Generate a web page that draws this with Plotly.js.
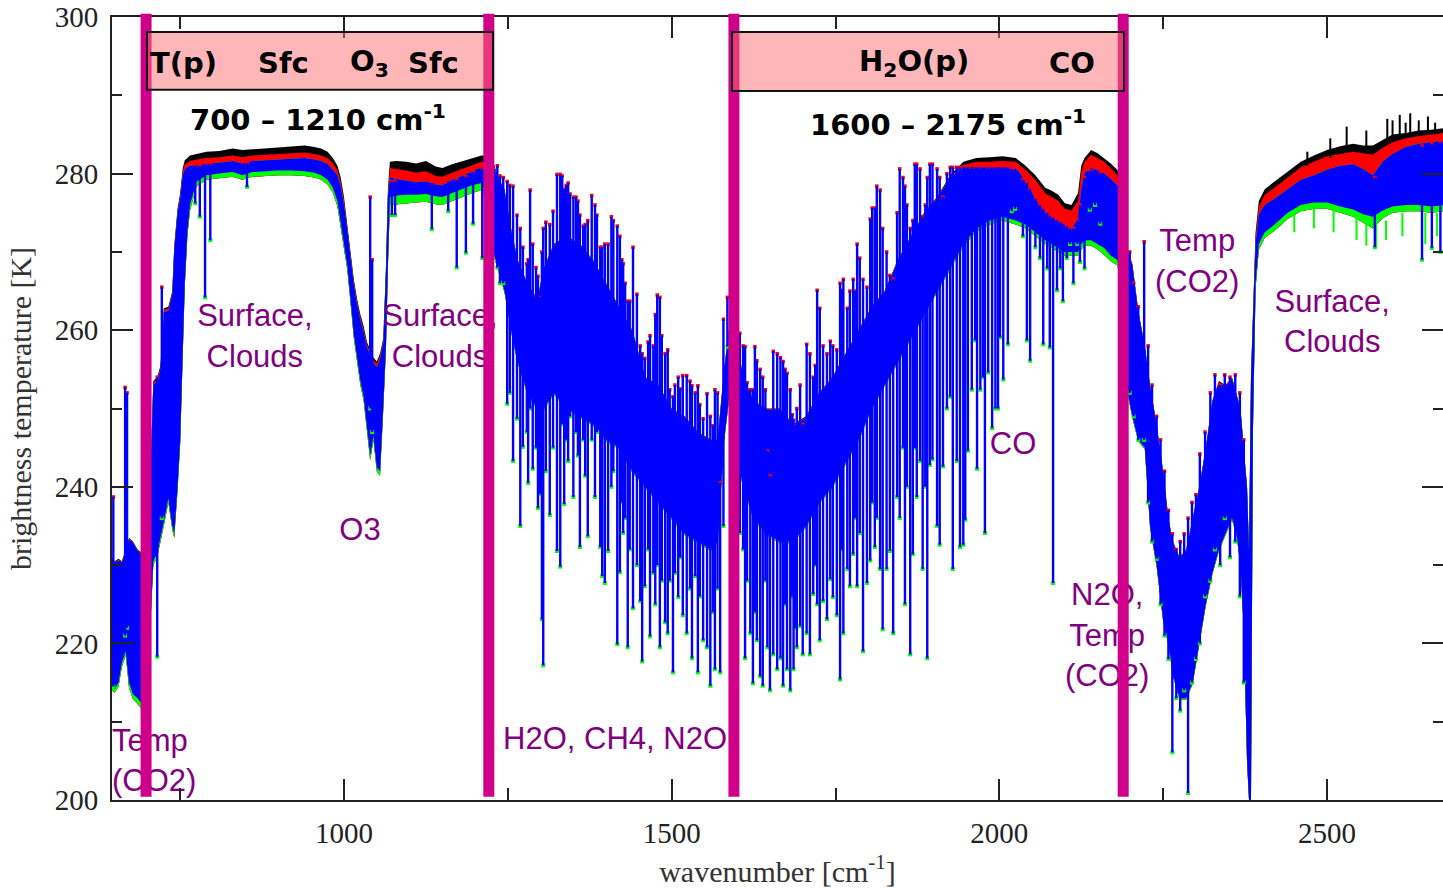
<!DOCTYPE html>
<html><head><meta charset="utf-8">
<script src="https://cdn.plot.ly/plotly-3.0.1.min.js"></script>
<style>html,body{margin:0;padding:0;background:#fff}#chart{width:1443px;height:888px}</style>
</head><body><div id="chart"></div>
<script>
// ---------- spectrum envelope (wavenumber, brightness temperatures of each layer) ----------
const bandWn = [
 646,650,656,661,667,672,678,685,692,698,
 704,709,715,720,725,732,738,741,746,750,
 754,757,761,765,775,790,810,830,845,860,
 880,900,920,940,955,965,975,983,990,995,
 1000,1005,1010,1015,1020,1025,1030,1035,1040,1045,
 1050,1055,1060,1064,1067,1070,1080,1095,1110,1125,
 1140,1150,1165,1180,1195,1210,1220,1228,1235,1245,
 1255,1265,1280,1295,1305,1320,1340,1360,1380,1400,
 1420,1440,1460,1480,1500,1520,1540,1560,1570,1580,
 1590,1600,1610,1625,1645,1665,1685,1705,1725,1745,
 1765,1785,1805,1825,1845,1865,1885,1905,1925,1945,
 1965,1985,2005,2025,2040,2055,2070,2080,2090,2100,
 2110,2120,2125,2130,2140,2150,2160,2170,2180,2190,
 2196,2203,2212,2222,2230,2240,2250,2258,2265,2275,
 2285,2295,2305,2315,2325,2335,2345,2355,2362,2368,
 2373,2378,2381,2384,2387,2391,2396,2405,2420,2440,
 2460,2480,2500,2520,2540,2555,2570,2585,2600,2620,
 2640,2660,2677];
const bandBlack = [
 231.0,230.5,230.8,230.5,232.0,233.5,233.0,232.0,231.5,231.0,
 240.0,253.5,254.0,255.5,262.8,263.0,265.0,270.8,275.5,277.5,
 280.7,281.7,282.0,282.3,282.5,282.8,282.9,283.2,283.0,283.1,
 283.2,283.4,283.5,283.6,283.4,283.2,282.8,282.0,281.0,279.5,
 277.0,273.5,270.0,266.5,264.0,262.0,260.5,258.5,257.5,256.5,
 256.0,257.0,259.0,268.0,278.0,281.5,281.6,281.5,281.3,281.6,
 280.9,280.7,281.2,281.6,282.0,282.3,282.3,281.5,279.5,278.0,
 273.0,269.0,266.0,264.0,268.0,271.0,272.0,271.0,269.0,266.0,
 263.0,260.0,254.0,253.0,250.0,249.0,247.0,246.0,246.0,255.0,
 262.0,258.0,254.0,251.0,250.0,250.0,248.0,249.0,252.0,254.0,
 257.0,260.0,263.0,265.0,269.0,272.0,275.0,277.0,279.8,281.5,
 282.0,282.1,282.2,282.0,281.0,279.8,278.2,277.8,277.3,276.2,
 276.0,277.5,281.0,282.0,283.0,282.6,282.0,281.3,280.5,278.0,
 270.0,268.5,262.5,258.0,253.0,248.0,242.0,236.0,233.0,231.0,
 232.0,236.0,240.0,245.0,251.0,253.5,253.0,254.0,252.0,250.0,
 245.0,240.0,232.0,254.0,262.0,272.5,276.5,278.0,279.0,280.3,
 281.5,282.3,283.0,283.5,283.8,283.6,283.6,284.3,285.0,285.2,
 285.5,285.6,285.8];
const bandRed = [
 230.9,230.4,230.7,230.4,231.9,233.4,232.9,231.9,231.4,230.9,
 239.9,253.3,253.8,255.3,262.6,262.8,264.8,270.6,275.3,277.2,
 280.3,281.2,281.4,281.6,281.8,282.0,282.1,282.3,282.1,282.3,
 282.4,282.5,282.6,282.7,282.5,282.3,282.0,281.3,280.5,279.0,
 276.6,273.2,269.7,266.2,263.7,261.7,260.2,258.2,257.2,256.2,
 255.7,256.7,258.7,267.7,277.5,280.7,280.6,280.4,280.1,280.3,
 279.7,279.6,280.1,280.6,281.1,281.5,281.6,281.3,279.4,277.9,
 272.9,268.9,265.9,263.9,267.9,270.9,271.9,270.9,268.9,265.9,
 262.9,259.9,253.9,252.9,249.9,248.9,246.9,245.9,245.9,254.9,
 261.9,257.9,253.9,250.9,249.9,249.9,247.9,248.9,251.9,253.9,
 256.9,259.9,262.9,264.9,268.9,271.9,274.9,276.9,279.6,281.1,
 281.5,281.5,281.6,281.5,280.5,279.2,277.5,277.0,276.5,275.5,
 275.3,276.5,280.2,281.5,282.4,282.0,281.5,280.7,279.8,277.5,
 269.9,268.4,262.4,257.9,252.9,247.9,241.9,235.9,232.9,230.9,
 231.9,235.9,239.9,244.9,250.9,253.4,252.9,253.9,251.9,249.9,
 244.9,239.9,231.9,253.9,261.8,272.0,275.8,277.3,278.2,279.5,
 280.8,281.5,282.2,282.5,282.8,282.6,282.4,283.3,284.0,284.5,
 284.8,285.0,285.2];
const bandBlue = [
 230.8,230.3,230.6,230.3,231.8,233.3,232.8,231.8,231.3,230.8,
 239.8,253.0,253.5,255.0,262.3,262.5,264.5,270.3,275.0,276.8,
 279.8,280.5,280.8,281.0,281.1,281.3,281.4,281.6,281.3,281.6,
 281.7,281.8,281.9,282.0,281.8,281.6,281.2,280.5,279.8,278.4,
 276.0,272.8,269.3,265.8,263.3,261.3,259.8,257.8,256.8,255.8,
 255.3,256.3,258.3,267.3,277.0,279.5,279.3,279.1,278.9,279.0,
 278.6,278.5,279.2,279.7,280.3,280.8,280.9,281.0,279.3,277.8,
 272.8,268.8,265.8,263.8,267.8,270.8,271.8,270.8,268.8,265.8,
 262.8,259.8,253.8,252.8,249.8,248.8,246.8,245.8,245.8,254.8,
 261.8,257.8,253.8,250.8,249.8,249.8,247.8,248.8,251.8,253.8,
 256.8,259.8,262.8,264.8,268.8,271.8,274.8,276.8,279.5,280.7,
 281.0,280.9,280.9,280.8,279.0,276.8,275.0,274.5,274.0,273.5,
 273.0,274.2,278.0,280.0,280.8,280.5,280.0,279.3,278.5,277.0,
 269.8,268.3,262.3,257.8,252.8,247.8,241.8,235.8,232.8,230.8,
 231.8,235.8,239.8,244.8,250.8,253.3,252.8,253.8,251.8,249.8,
 244.8,239.8,231.8,253.8,261.6,271.0,274.8,276.0,276.8,278.0,
 279.2,279.8,280.5,281.0,281.2,280.6,279.8,281.5,282.5,283.4,
 283.8,284.0,284.2];
const bandBlueLow = [
 214.5,214.2,215.0,217.5,219.0,215.0,213.5,213.0,212.3,211.5,
 222.0,230.5,231.5,233.5,235.5,238.5,235.0,234.0,240.0,246.0,
 257.5,266.0,272.5,276.0,279.0,279.8,280.0,280.2,279.8,280.2,
 280.3,280.4,280.4,280.3,280.1,279.8,279.2,278.2,276.5,273.8,
 271.0,268.3,264.0,259.5,256.5,253.5,251.5,247.5,244.0,246.5,
 242.5,242.0,250.5,258.0,268.5,277.0,277.2,277.3,277.3,277.4,
 277.1,277.0,277.5,278.0,278.5,278.8,277.0,270.0,268.0,265.0,
 260.0,256.0,252.0,250.0,250.0,252.0,250.0,249.0,248.0,246.0,
 245.0,242.0,240.0,238.0,236.0,234.0,233.0,232.0,233.0,246.0,
 253.0,243.0,240.0,236.0,234.0,233.0,233.0,235.0,238.0,240.0,
 243.0,246.0,250.0,253.0,256.0,259.0,262.0,265.0,268.0,271.0,
 273.0,274.0,274.5,274.0,273.5,272.5,271.5,271.0,270.5,270.0,
 270.0,270.0,271.0,271.5,271.5,271.0,270.5,269.5,269.0,265.0,
 252.0,249.0,246.0,245.0,235.0,230.0,223.0,220.0,216.0,213.0,
 213.0,215.0,220.0,225.0,229.0,232.0,234.0,236.0,234.0,230.0,
 222.0,205.0,200.0,200.0,248.0,266.0,271.0,272.5,273.5,275.0,
 276.0,276.3,276.3,275.8,275.4,274.8,274.5,275.3,275.8,276.0,
 276.0,275.8,276.0];
const bandGreen = [
 214.0,213.7,214.5,217.0,218.5,214.3,212.9,212.3,211.6,210.9,
 221.5,230.0,231.0,233.0,235.0,238.0,234.5,233.5,239.5,245.5,
 257.0,265.5,272.0,275.3,278.4,279.2,279.4,279.6,279.2,279.6,
 279.7,279.8,279.8,279.7,279.5,279.2,278.6,277.6,275.8,273.2,
 270.4,267.8,263.5,259.0,256.0,253.0,251.0,247.0,243.4,246.0,
 242.0,241.4,250.0,257.5,268.0,276.0,276.1,276.2,276.3,276.4,
 276.1,276.0,276.6,277.0,277.5,277.9,276.5,269.6,267.8,264.8,
 259.8,255.8,251.8,249.8,249.8,251.8,249.8,248.8,247.8,245.8,
 244.8,241.8,239.8,237.8,235.8,233.8,232.8,231.8,232.8,245.8,
 252.8,242.8,239.8,235.8,233.8,232.8,232.8,234.8,237.8,239.8,
 242.8,245.8,249.8,252.8,255.8,258.8,261.8,264.8,267.8,270.7,
 272.6,273.5,274.0,273.5,273.0,272.0,271.0,270.5,270.0,269.5,
 269.5,269.5,270.3,270.8,270.8,270.3,269.6,268.8,268.3,264.5,
 251.8,248.8,245.8,244.8,234.8,229.8,222.8,219.8,215.8,212.8,
 212.8,214.8,219.8,224.8,228.8,231.8,233.8,235.8,233.8,229.8,
 221.8,204.8,200.0,200.0,247.0,265.3,270.3,271.8,272.7,274.2,
 275.2,275.5,275.5,275.0,274.5,273.8,273.0,274.3,275.0,275.2,
 275.2,275.0,275.2];

// ---------- individual absorption lines: wavenumber, top and bottom temperature ----------
const lineWn = [
 648,666,669,715,722,
 773,780,788,796,852,
 1040,1043,
 1073,1078,1134,1159,1172,1186,1197,1211,
 1234,1238,1243,1249,1253,1258,1264,1269,1273,1279,
 1281,1284,1288,1293,1296,1299,1302,1304,1308,1314,
 1319,1325,1330,1333,1336,1339,1342,1345,1350,1354,
 1357,1360,1365,1368,1372,1378,1383,1386,1391,1394,
 1398,1403,1408,1411,1417,1421,1424,1426,1429,1433,
 1436,1441,1447,1452,1455,1459,1464,1467,1472,1475,
 1478,1482,1485,1490,1494,1497,1502,1505,1510,1513,
 1517,1523,1528,1531,1536,1540,1543,1548,1554,1559,
 1563,1566,1570,1574,1579,1585,
 1604,1609,1612,1615,1620,1624,1627,1630,1635,1639,
 1643,1646,1650,1655,1661,1666,1670,1673,1676,1681,
 1684,1686,1688,1691,1696,1700,1706,1711,1716,1719,
 1722,1726,1731,1737,1742,1746,1752,1757,1760,1762,
 1768,1772,1777,1780,1783,1787,1792,1798,1803,1806,
 1810,1813,1818,1822,1828,1833,1838,1844,1848,1853,
 1856,1859,1864,1868,1871,1874,1879,1883,1887,1890,
 1894,1898,1905,1909,1914,1920,1925,1929,1935,1940,
 1945,1948,1952,1958,1963,1966,1971,1975,1978,1983,
 1989,1994,1998,2001,2006,2013,2019,2024,2036,2042,
 2047,2055,2062,2067,2073,2077,2082,2088,2093,2097,
 2103,2108,2113,2119,2123,2130,2138,2146,2154,
 2199,2205,2212,2221,2227,2233,2240,2246,2252,2258,
 2264,2270,2276,2282,2288,2294,2300,2306,2314,2322,
 2329,2337,2344,2352,2360,2367,2373,
 2573,2645,2660,2673];
const lineTop = [
 238.7,252.7,252.0,254.0,265.5,
 281.0,281.0,281.2,281.2,281.3,
 277.0,269.0,
 279.0,279.0,278.8,279.0,279.2,279.6,280.2,280.6,
 281.0,279.7,279.5,279.0,278.5,278.4,274.7,273.0,270.6,268.5,
 269.0,277.9,271.0,268.0,266.9,264.2,270.0,273.0,273.8,273.5,
 275.2,279.9,279.9,279.7,278.0,278.5,278.8,277.4,277.0,277.0,
 276.5,274.7,273.3,273.5,274.0,277.2,276.0,274.7,270.6,270.6,
 271.0,271.0,274.5,274.0,273.3,272.0,269.0,268.5,266.0,263.7,
 263.7,270.6,264.6,258.0,257.0,256.4,258.5,259.3,258.0,262.0,
 264.5,264.2,259.3,257.0,257.5,252.4,251.5,253.0,254.0,252.5,
 254.2,254.2,253.5,252.9,252.0,252.9,250.5,248.7,251.9,249.0,
 247.8,252.4,252.0,240.5,261.4,264.2,
 259.6,258.0,257.9,253.3,252.4,252.4,257.9,256.1,255.0,254.0,
 252.4,244.6,241.4,257.3,257.0,256.5,256.0,255.0,254.5,252.4,
 249.2,248.5,247.8,250.0,253.0,248.0,258.2,257.0,254.0,255.5,
 265.1,262.8,258.0,257.0,258.6,258.0,257.5,266.0,265.1,266.5,
 262.8,265.0,266.5,265.0,271.0,269.2,266.5,265.5,274.2,275.6,
 275.6,278.4,277.9,273.0,270.0,267.0,266.5,275.0,280.6,279.5,
 278.4,276.0,273.0,274.0,281.2,281.2,280.6,274.5,276.0,279.5,
 281.2,281.2,280.6,279.5,277.0,280.0,280.8,280.8,280.8,280.8,
 280.8,280.8,280.8,280.8,280.8,280.8,280.8,280.8,280.8,280.8,
 280.8,280.8,280.8,280.8,280.8,280.8,280.6,280.6,279.2,278.8,
 278.0,276.8,276.0,275.5,275.0,274.6,274.4,274.1,273.8,273.6,
 273.3,273.0,273.0,274.0,276.0,279.5,280.4,280.5,280.1,
 270.0,266.0,263.0,271.3,258.0,253.0,249.0,246.0,242.0,237.0,
 234.0,232.0,233.0,234.0,236.0,238.0,239.0,244.2,247.0,252.0,
 254.3,253.0,254.3,254.0,254.3,252.0,246.0,
 279.5,283.5,283.8,284.0];
const lineBottom = [
 214.5,221.0,222.0,218.3,236.0,
 276.2,274.5,264.2,271.5,278.3,
 250.0,247.0,
 274.7,274.7,272.9,275.2,268.0,269.9,273.6,269.2,
 268.0,266.0,266.0,250.6,252.0,243.3,248.7,235.0,245.1,247.0,
 240.5,250.0,242.3,245.0,237.3,239.1,223.1,217.2,242.0,236.4,
 245.0,231.8,229.8,248.0,237.8,246.0,243.3,249.0,238.7,247.0,
 244.0,232.3,246.0,241.4,233.7,246.0,238.7,247.0,232.3,228.6,
 227.7,231.8,240.0,242.0,219.9,229.1,238.0,234.1,236.0,219.5,
 232.0,224.5,230.0,225.4,217.7,227.3,232.0,220.9,229.0,225.0,
 230.0,219.5,228.0,222.7,221.3,228.0,216.3,229.0,225.9,231.0,
 223.6,221.3,227.0,218.1,228.6,216.3,226.0,220.4,219.5,214.6,
 224.0,216.7,227.0,216.3,235.0,257.9,
 234.1,232.0,218.1,228.0,221.3,214.9,224.0,220.4,215.8,214.6,
 228.0,219.5,214.0,218.6,216.7,218.1,214.6,225.0,216.7,214.0,
 226.0,216.7,222.0,219.5,222.2,218.6,221.3,218.6,226.3,230.0,
 225.0,220.4,225.4,223.1,228.2,225.9,223.6,215.4,232.0,221.3,
 229.5,227.3,231.4,236.0,227.3,234.1,219.0,227.7,230.6,238.0,
 232.3,236.0,229.5,221.8,229.5,231.8,221.3,238.7,236.0,245.0,
 225.0,240.0,218.6,231.4,245.0,238.7,243.3,229.5,240.0,218.1,
 242.8,243.5,235.0,232.6,242.6,250.0,251.5,229.5,243.3,232.3,
 232.6,235.8,244.6,252.4,258.7,242.3,252.4,254.0,234.1,254.6,
 247.5,250.0,250.0,259.1,253.7,258.2,275.2,275.5,272.0,258.7,
 256.1,270.6,269.2,258.2,267.9,257.8,227.7,265.1,267.9,263.7,
 269.2,271.0,266.0,271.0,268.7,267.9,275.4,276.0,273.6,
 252.0,249.0,246.0,246.0,238.0,233.0,230.8,225.0,221.0,218.0,
 206.1,213.0,211.4,214.0,200.9,215.0,218.0,220.0,226.0,228.0,
 232.0,230.0,236.0,231.0,233.0,226.0,215.0,
 270.6,269.0,270.5,270.0];

// ---------- upward black lines and downward green lines on the right window ----------
const blackLineWn = [2470,2505,2530,2560,2592,2600,2611,2620,2627,2640,2654,2665];
const blackLineTop = [282.8,284.5,286.0,285.5,287.0,286.8,287.5,286.5,287.7,286.8,287.3,286.5];
const blackLineBottom = [281.0,282.0,283.0,283.0,284.0,284.3,284.5,284.5,285.0,285.0,285.0,285.0];
const greenLineWn = [2450,2480,2510,2545,2560,2575,2590,2615,2650,2668];
const greenLineTop = [275.0,275.5,275.5,274.5,274.0,273.5,274.0,275.0,275.0,275.0];
const greenLineBottom = [272.5,273.0,272.5,271.5,270.8,270.5,271.5,272.0,271.0,272.0];

// ---------- channel separators and highlighted bands ----------
const separatorWn = [698, 1221, 1595, 2189];
const boxWnStart = [699.4, 1592.1];
const boxWnEnd = [1227.4, 2190.2];
const boxTempLow = [290.7, 290.55];
const boxTempHigh = [298.1, 298.1];

// ---------- texts ----------
const xTickVals = [1000, 1500, 2000, 2500];
const xTickText = ['1000', '1500', '2000', '2500'];
const xMinorVals = [750, 1250, 1750, 2250];
const yTickVals = [200, 220, 240, 260, 280, 300];
const yTickText = ['200', '220', '240', '260', '280', '300'];
const yMinorVals = [210, 230, 250, 270, 290];

const labelText = ['Surface,<br>Clouds', 'Surface,<br>Clouds', 'O3', 'H2O, CH4, N2O', 'CO',
                   'N2O,<br>Temp<br>(CO2)', 'Temp<br>(CO2)', 'Surface,<br>Clouds'];
const labelWn = [864, 1146.5, 1024.5, 1413.6, 2021, 2164.6, 2302, 2508];
const labelTemp = [258.9, 258.9, 234.2, 207.5, 245.2, 220.7, 268.5, 260.8];
const leftLabelText = ['Temp<br>(CO2)'];
const leftLabelWn = [646];
const leftLabelTemp = [204.7];

const boxWordText = ['T(p)', 'Sfc', 'O<sub>3</sub>', 'Sfc', 'H<sub>2</sub>O(p)', 'CO'];
const boxWordWn = [754.4, 907, 1039, 1136, 1870, 2111];
const boxWordTemp = [294.1, 294.1, 294.1, 294.1, 294.1, 294.1];
const rangeText = ['700 \u2013 1210 cm<sup>-1</sup>', '1600 \u2013 2175 cm<sup>-1</sup>'];
const rangeWn = [960, 1922];
const rangeTemp = [287.1, 286.5];

// ---------- build traces ----------
function polygon(top, bottom, color) {
  const x = bandWn.concat(bandWn.slice().reverse());
  const y = top.concat(bottom.slice().reverse());
  return {x: x, y: y, type: 'scatter', mode: 'lines', fill: 'toself', fillcolor: color,
          line: {width: 0, color: color}, hoverinfo: 'skip'};
}
function segments(xs, tops, bottoms) {
  const x = [], y = [];
  for (let i = 0; i < xs.length; i++) {
    x.push(xs[i], xs[i], null);
    y.push(tops[i], bottoms[i], null);
  }
  return {x: x, y: y};
}
const spikes = segments(lineWn, lineTop, lineBottom);
const blackUp = segments(blackLineWn, blackLineTop, blackLineBottom);
const greenDown = segments(greenLineWn, greenLineTop, greenLineBottom);

const labelFont = {family: 'Liberation Sans, Arial, sans-serif', size: 31, color: '#800080'};
const traces = [
  polygon(bandBlack, bandGreen, '#000000'),
  polygon(bandRed, bandGreen, '#ff0000'),
  polygon(bandBlue, bandGreen, '#00ff00'),
  polygon(bandBlue, bandBlueLow, '#0000ff'),
  {x: blackUp.x, y: blackUp.y, type: 'scatter', mode: 'lines', line: {color: '#000000', width: 2}, hoverinfo: 'skip'},
  {x: greenDown.x, y: greenDown.y, type: 'scatter', mode: 'lines', line: {color: '#00ff00', width: 2}, hoverinfo: 'skip'},
  {x: lineWn, y: lineBottom, type: 'scatter', mode: 'markers', marker: {symbol: 'square', size: 4, color: '#00ff00'}, hoverinfo: 'skip'},
  {x: lineWn, y: lineTop, type: 'scatter', mode: 'markers', marker: {symbol: 'square', size: 3.5, color: '#ff0000'}, hoverinfo: 'skip'},
  {x: spikes.x, y: spikes.y, type: 'scatter', mode: 'lines', line: {color: '#0000ff', width: 2.4}, hoverinfo: 'skip'},
  {x: labelWn, y: labelTemp, text: labelText, type: 'scatter', mode: 'text', textposition: 'middle center',
   textfont: labelFont, cliponaxis: false, hoverinfo: 'skip'},
  {x: leftLabelWn, y: leftLabelTemp, text: leftLabelText, type: 'scatter', mode: 'text', textposition: 'middle right',
   textfont: labelFont, cliponaxis: false, hoverinfo: 'skip'}
];

const shapes = [];
separatorWn.forEach(function (w) {
  shapes.push({type: 'line', xref: 'x', yref: 'paper', x0: w, x1: w, y0: 0.004, y1: 1.004,
               line: {color: '#d1008b', width: 11}, layer: 'above'});
});
for (let i = 0; i < boxWnStart.length; i++) {
  shapes.push({type: 'rect', xref: 'x', yref: 'y', x0: boxWnStart[i], x1: boxWnEnd[i],
               y0: boxTempLow[i], y1: boxTempHigh[i], fillcolor: 'rgba(255,110,115,0.5)',
               line: {color: '#111', width: 2}, layer: 'above'});
}

const annotations = [];
for (let i = 0; i < boxWordText.length; i++) {
  annotations.push({x: boxWordWn[i], y: boxWordTemp[i], xref: 'x', yref: 'y', text: '<b>' + boxWordText[i] + '</b>',
    showarrow: false, font: {family: 'DejaVu Sans, sans-serif', size: 29, color: '#000'}});
}
for (let i = 0; i < rangeText.length; i++) {
  annotations.push({x: rangeWn[i], y: rangeTemp[i], xref: 'x', yref: 'y', text: '<b>' + rangeText[i] + '</b>',
    showarrow: false, font: {family: 'DejaVu Sans, sans-serif', size: 29, color: '#000'}});
}

const axisCommon = {
  showline: true, linewidth: 2, linecolor: '#222', showgrid: false, zeroline: false,
  ticks: 'inside', ticklen: 21, tickwidth: 2, tickcolor: '#222',
  tickfont: {family: 'Liberation Serif, Times New Roman, serif', size: 29, color: '#222'},
  ticklabelstandoff: 6
};

const layout = {
  width: 1443, height: 888,
  margin: {l: 112, r: 0, t: 17, b: 88},
  paper_bgcolor: '#ffffff', plot_bgcolor: '#ffffff',
  showlegend: false, hovermode: false,
  xaxis: Object.assign({}, axisCommon, {
    range: [646, 2677], tickmode: 'array', tickvals: xTickVals, ticktext: xTickText, mirror: 'allticks',
    minor: {tickmode: 'array', tickvals: xMinorVals, ticks: 'inside', ticklen: 12, tickwidth: 2, tickcolor: '#222'},
    title: {text: 'wavenumber [cm<sup>-1</sup>]', standoff: 14,
            font: {family: 'Liberation Serif, Times New Roman, serif', size: 30, color: '#333'}}
  }),
  yaxis: Object.assign({}, axisCommon, {
    range: [200, 300], tickmode: 'array', tickvals: yTickVals, ticktext: yTickText, mirror: 'ticks',
    minor: {tickmode: 'array', tickvals: yMinorVals, ticks: 'inside', ticklen: 10, tickwidth: 2, tickcolor: '#222'},
    title: {text: 'brightness temperature [K]', standoff: 14,
            font: {family: 'Liberation Serif, Times New Roman, serif', size: 30, color: '#333'}}
  }),
  shapes: shapes,
  annotations: annotations
};

Plotly.newPlot('chart', traces, layout, {displayModeBar: false, staticPlot: true});
</script>
</body></html>
